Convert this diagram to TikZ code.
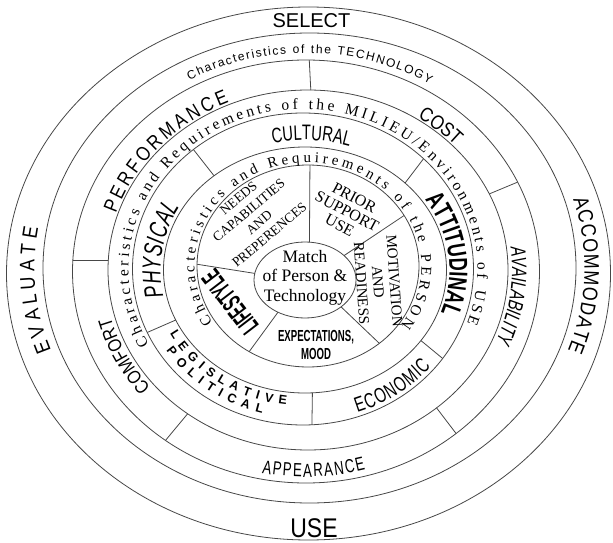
\documentclass[tikz,border=0pt]{standalone}
\usepackage{fontspec}
\usetikzlibrary{decorations.text,calc}
\newfontfamily\sansA{Liberation Sans}
\newfontfamily\sansC[FakeStretch=0.85]{Liberation Sans}
\newfontfamily\sansN[FakeStretch=0.7]{Liberation Sans}
\newfontfamily\sansX[FakeStretch=0.6]{Liberation Sans}
\newfontfamily\sansXX[FakeStretch=0.5]{Liberation Sans}
\newfontfamily\serifA{Liberation Serif}
\newcommand\fs[1]{\fontsize{#1}{#1}\selectfont}
\tikzset{
  ring/.style={line width=0.8pt, draw=black!72},
  ctext/.style 2 args={decorate, decoration={text along path, text align={center}, text={|#1|#2}}},
  ftext/.style 2 args={decorate, decoration={text along path, text align={fit to path}, text={|#1|#2}}},
  lbl/.style={inner sep=0pt, align=center},
}
\begin{document}
\begin{tikzpicture}[x=1pt,y=1pt]
\useasboundingbox (0,0) rectangle (613,542);
\coordinate (c0) at (308.5,268.5);
\coordinate (c1) at (309.5,274);
\coordinate (c2) at (306,270.5);
\coordinate (c3) at (308,272);
\coordinate (c4) at (303,273);
\coordinate (c5) at (305,272);
\coordinate (c6) at (308,276);
\coordinate (cc) at (305,262);
% ellipses
\draw[ring] (c0) ellipse [x radius=302pt, y radius=266.5pt];
\draw[ring] (c1) ellipse [x radius=266.5pt, y radius=235pt];
\draw[ring] (c2) ellipse [x radius=233.5pt, y radius=211.5pt];
\draw[ring] (c3) ellipse [x radius=200pt, y radius=180pt];
\draw[ring] (c4) ellipse [x radius=170.5pt, y radius=156pt];
\draw[ring] (c5) ellipse [x radius=141.5pt, y radius=123pt];
\draw[ring] (c6) ellipse [x radius=111pt, y radius=101pt];
\draw[ring] (cc) ellipse [x radius=51pt, y radius=38pt];
% dividers ring E2-E3
\foreach \t in {89.2,25,-50,-127,177}
  \draw[ring] ($(c3)+(\t:200pt and 180pt)$) -- ($(c2)+(\t:233.5pt and 211.5pt)$);
% dividers ring E4-E5
\foreach \t in {130,45,-35,-87,204}
  \draw[ring] ($(c5)+(\t:141.5pt and 123pt)$) -- ($(c4)+(\t:170.5pt and 156pt)$);
% dividers inner ring
\foreach \a/\b in {85/89,40/30,-45/-50,-122/-122,170/179}
  \draw[ring] ($(cc)+(\a:51pt and 38pt)$) -- ($(c6)+(\b:111pt and 101pt)$);
% outer band
\node[lbl, font=\sansA\fs{20}] (select) at (311.5,521.5) {SELECT};
\node[lbl, font=\sansC\fs{27}] (use) at (314,14) {USE};
\path[ftext={\sansC\fs{21}}{EVALUATE}] ($(c1)+(200:275pt and 242pt)$) arc[start angle=200, end angle=170.5, x radius=275pt, y radius=242pt];
\path[ftext={\sansC\fs{21}}{ACCOMMODATE}] ($(c1)+(16.5:275pt and 242pt)$) arc[start angle=16.5, end angle=-20, x radius=275pt, y radius=242pt];
% technology band
\path[ftext={\sansA\fs{12}}{Characteristics of the TECHNOLOGY}] ($(c2)+(119:240.5pt and 218.5pt)$) arc[start angle=119, end angle=59, x radius=240.5pt, y radius=218.5pt];
% technology sectors
\path[ftext={\sansC\fs{20}}{PERFORMANCE}] ($(c3)+(162:202pt and 182pt)$) arc[start angle=162, end angle=113, x radius=202pt, y radius=182pt];
\path[ctext={\sansC\fs{20}}{COST}] ($(c3)+(61:201.5pt and 181.5pt)$) arc[start angle=61, end angle=39, x radius=201.5pt, y radius=181.5pt];
\path[ftext={\sansN\itshape\fs{21}}{AVAILABILITY}] ($(c3)+(7:204pt and 184pt)$) arc[start angle=7, end angle=-23, x radius=204pt, y radius=184pt];
\path[ftext={\sansN\fs{19}}{APPEARANCE}] ($(c2)+(-101.2:227.5pt and 205.5pt)$) arc[start angle=-101.2, end angle=-74.8, x radius=227.5pt, y radius=205.5pt];
\path[ctext={\sansC\fs{19}}{COMFORT}] ($(c3)+(227:204pt and 184pt)$) arc[start angle=227, end angle=187, x radius=204pt, y radius=184pt];
% milieu band
\path[ftext={\serifA\fs{15.5}}{Characteristics and Requirements of the MILIEU/Environments of USE}] ($(c4)+(208:174.5pt and 160pt)$) arc[start angle=208, end angle=-20, x radius=174.5pt, y radius=160pt];
% milieu sectors
\path[ctext={\sansN\fs{21}}{CULTURAL}] ($(c5)+(108:148pt and 130pt)$) arc[start angle=108, end angle=67, x radius=148pt, y radius=130pt];
\path[ftext={\sansN\itshape\fs{26}}{PHYSICAL}] ($(c5)+(192:144.5pt and 126pt)$) arc[start angle=192, end angle=150, x radius=144.5pt, y radius=126pt];
\path[ftext={\sansN\bfseries\fs{26}}{ATTITUDINAL}] ($(c5)+(34:144.5pt and 126pt)$) arc[start angle=34, end angle=-20, x radius=144.5pt, y radius=126pt];
\path[ftext={\sansN\fs{21}}{ECONOMIC}] ($(c4)+(-71:167pt and 152pt)$) arc[start angle=-71, end angle=-40, x radius=167pt, y radius=152pt];
\path[ftext={\sansA\bfseries\fs{12.5}}{LEGISLATIVE}] ($(c5)+(208:153pt and 136pt)$) arc[start angle=208, end angle=263, x radius=153pt, y radius=136pt];
\path[ftext={\sansA\bfseries\fs{12.5}}{POLITICAL}] ($(c5)+(213:165.5pt and 148.5pt)$) arc[start angle=213, end angle=255, x radius=165.5pt, y radius=148.5pt];
% person band
\path[ftext={\serifA\fs{15}}{Characteristics and Requirements of the PERSON}] ($(c6)+(213:113.5pt and 103.5pt)$) arc[start angle=213, end angle=-35, x radius=113.5pt, y radius=103.5pt];
% inner sectors
\node[lbl, font=\serifA\fontsize{13.5}{16}\selectfont, rotate=40] (needs) at (254,325.5) {NEEDS\\CAPABILITIES\\AND\\PREPERENCES};
\node[lbl, font=\serifA\fontsize{16}{15.6}\selectfont, rotate=-28] (prior) at (347,330.5) {PRIOR\\SUPPORT\\USE};
\node[lbl, font=\serifA\fontsize{15}{16.5}\selectfont, rotate=-86] (motiv) at (378,260) {MOTIVATION\\AND\\READINESS};
\node[lbl, font=\sansX\bfseries\fontsize{16}{18}\selectfont] (expect) at (316,197) {EXPECTATIONS,\\MOOD};
\node[lbl, font=\sansXX\bfseries\fs{27}, rotate=127.5] (life) at (230,240) {LIFESTYLE};
\node[lbl, font=\serifA\fontsize{17.5}{19.5}\selectfont] (match) at (305,264.5) {Match\\of Person \&\\Technology};
\end{tikzpicture}
\end{document}
